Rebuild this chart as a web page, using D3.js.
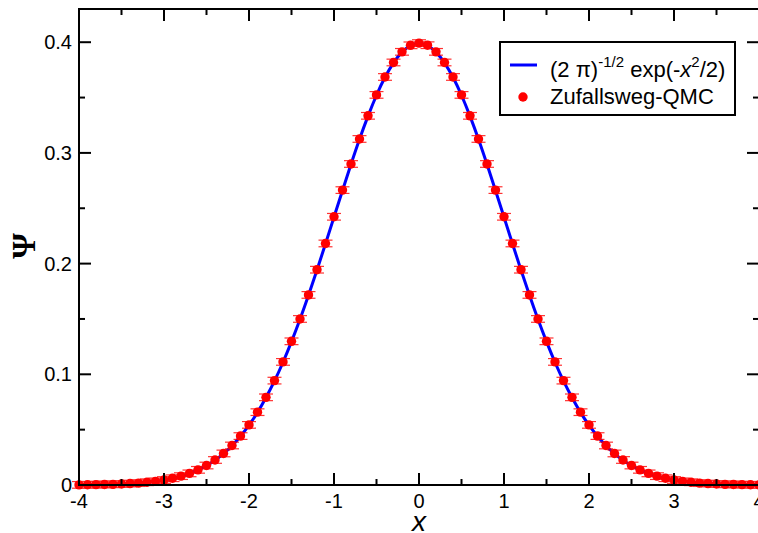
<!DOCTYPE html>
<html>
<head>
<meta charset="utf-8">
<script src="https://cdn.jsdelivr.net/npm/d3@7"></script>
<style>
  html, body { margin: 0; padding: 0; background: #fff; }
  svg { display: block; }
</style>
</head>
<body>
<svg id="chart" width="758" height="533"></svg>
<script>
// ---- data ----
const xValues = [-4.0,-3.9,-3.8,-3.7,-3.6,-3.5,-3.4,-3.3,-3.2,-3.1,-3.0,-2.9,-2.8,-2.7,-2.6,-2.5,-2.4,-2.3,-2.2,-2.1,
  -2.0,-1.9,-1.8,-1.7,-1.6,-1.5,-1.4,-1.3,-1.2,-1.1,-1.0,-0.9,-0.8,-0.7,-0.6,-0.5,-0.4,-0.3,-0.2,-0.1,
  0.0,0.1,0.2,0.3,0.4,0.5,0.6,0.7,0.8,0.9,1.0,1.1,1.2,1.3,1.4,1.5,1.6,1.7,1.8,1.9,
  2.0,2.1,2.2,2.3,2.4,2.5,2.6,2.7,2.8,2.9,3.0,3.1,3.2,3.3,3.4,3.5,3.6,3.7,3.8,3.9,4.0];

const gaussCurve = [0.0001,0.0002,0.0003,0.0004,0.0006,0.0009,0.0012,0.0017,0.0024,0.0033,0.0044,0.0060,0.0079,0.0104,0.0136,0.0175,0.0224,0.0283,0.0355,0.0440,
  0.0540,0.0656,0.0790,0.0940,0.1109,0.1295,0.1497,0.1714,0.1942,0.2179,0.2420,0.2661,0.2897,0.3123,0.3332,0.3521,0.3683,0.3814,0.3910,0.3970,
  0.3989,0.3970,0.3910,0.3814,0.3683,0.3521,0.3332,0.3123,0.2897,0.2661,0.2420,0.2179,0.1942,0.1714,0.1497,0.1295,0.1109,0.0940,0.0790,0.0656,
  0.0540,0.0440,0.0355,0.0283,0.0224,0.0175,0.0136,0.0104,0.0079,0.0060,0.0044,0.0033,0.0024,0.0017,0.0012,0.0009,0.0006,0.0004,0.0003,0.0002,0.0001];

const qmcValues = [0.0001,0.0002,0.0003,0.0005,0.0006,0.0009,0.0013,0.0017,0.0025,0.0033,0.0045,0.0061,0.0080,0.0105,0.0137,0.0176,0.0226,0.0285,0.0357,0.0442,
  0.0543,0.0658,0.0792,0.0943,0.1112,0.1298,0.1500,0.1717,0.1945,0.2182,0.2423,0.2664,0.2900,0.3126,0.3335,0.3524,0.3686,0.3817,0.3913,0.3972,
  0.3992,0.3973,0.3913,0.3817,0.3686,0.3524,0.3335,0.3126,0.2900,0.2664,0.2423,0.2182,0.1945,0.1717,0.1500,0.1298,0.1112,0.0943,0.0792,0.0658,
  0.0543,0.0442,0.0357,0.0285,0.0226,0.0176,0.0137,0.0105,0.0080,0.0061,0.0045,0.0033,0.0025,0.0017,0.0013,0.0009,0.0006,0.0005,0.0003,0.0002,0.0001];

const qmcErrors = [0.003,0.003,0.003,0.003,0.003,0.003,0.003,0.003,0.003,0.003,0.003,0.003,0.003,0.003,0.003,0.003,0.003,0.003,0.003,0.003,
  0.003,0.003,0.003,0.003,0.003,0.003,0.003,0.003,0.003,0.003,0.003,0.003,0.003,0.003,0.003,0.003,0.003,0.003,0.003,0.003,
  0.003,0.003,0.003,0.003,0.003,0.003,0.003,0.003,0.003,0.003,0.003,0.003,0.003,0.003,0.003,0.003,0.003,0.003,0.003,0.003,
  0.003,0.003,0.003,0.003,0.003,0.003,0.003,0.003,0.003,0.003,0.003,0.003,0.003,0.003,0.003,0.003,0.003,0.003,0.003,0.003,0.003];

const xTickLabels = ["-4","-3","-2","-1","0","1","2","3","4"];
const xTicks = [-4,-3,-2,-1,0,1,2,3,4];
const xMinorTicks = [-3.5,-2.5,-1.5,-0.5,0.5,1.5,2.5,3.5];
const yTickLabels = ["0","0.1","0.2","0.3","0.4"];
const yTicks = [0,0.1,0.2,0.3,0.4];
const yMinorTicks = [0.05,0.15,0.25,0.35];
const legendLabels = ["(2 π)", "Zufallsweg-QMC"];

// ---- layout ----
const svg = d3.select("#chart");
const pLeft = 79, pRight = 759, pTop = 9, pBottom = 485;
const x = d3.scaleLinear().domain([-4, 4]).range([pLeft, pRight]);
const y = d3.scaleLinear().domain([0, 0.43]).range([pBottom, pTop]);
const font = "Liberation Sans, Arial, Helvetica, sans-serif";

// curve
const line = d3.line().x((d, i) => x(xValues[i])).y(d => y(d)).curve(d3.curveNatural);
svg.append("path").datum(gaussCurve)
  .attr("d", line).attr("fill", "none").attr("stroke", "#0000ff").attr("stroke-width", 3);

// error bars
const eb = svg.append("g").attr("stroke", "#ff0000").attr("stroke-width", 1.2).attr("opacity", 0.8);
qmcValues.forEach((v, i) => {
  const cx = x(xValues[i]);
  const y1 = y(v + qmcErrors[i]), y2 = y(v - qmcErrors[i]);
  eb.append("line").attr("x1", cx).attr("x2", cx).attr("y1", y1).attr("y2", y2);
  eb.append("line").attr("x1", cx - 7).attr("x2", cx + 7).attr("y1", y1).attr("y2", y1);
  eb.append("line").attr("x1", cx - 7).attr("x2", cx + 7).attr("y1", y2).attr("y2", y2);
});

// points
svg.append("g").selectAll("circle").data(qmcValues).join("circle")
  .attr("cx", (d, i) => x(xValues[i])).attr("cy", d => y(d))
  .attr("r", 4.7).attr("fill", "#ff0000");

// frame
const frame = svg.append("g").attr("stroke", "#000").attr("stroke-width", 2).attr("fill", "none");
frame.append("rect").attr("x", pLeft).attr("y", pTop).attr("width", pRight - pLeft).attr("height", pBottom - pTop);

// ticks
const tg = svg.append("g").attr("stroke", "#000").attr("stroke-width", 2);
xTicks.forEach(t => {
  tg.append("line").attr("x1", x(t)).attr("x2", x(t)).attr("y1", pBottom).attr("y2", pBottom - 12);
  tg.append("line").attr("x1", x(t)).attr("x2", x(t)).attr("y1", pTop).attr("y2", pTop + 12);
});
xMinorTicks.forEach(t => {
  tg.append("line").attr("x1", x(t)).attr("x2", x(t)).attr("y1", pBottom).attr("y2", pBottom - 6);
  tg.append("line").attr("x1", x(t)).attr("x2", x(t)).attr("y1", pTop).attr("y2", pTop + 6);
});
yTicks.forEach(t => {
  tg.append("line").attr("x1", pLeft).attr("x2", pLeft + 12).attr("y1", y(t)).attr("y2", y(t));
  tg.append("line").attr("x1", pRight).attr("x2", pRight - 12).attr("y1", y(t)).attr("y2", y(t));
});
yMinorTicks.forEach(t => {
  tg.append("line").attr("x1", pLeft).attr("x2", pLeft + 6).attr("y1", y(t)).attr("y2", y(t));
  tg.append("line").attr("x1", pRight).attr("x2", pRight - 6).attr("y1", y(t)).attr("y2", y(t));
});

// tick labels
svg.append("g").selectAll("text").data(xTicks).join("text")
  .attr("x", d => x(d)).attr("y", pBottom + 23)
  .attr("text-anchor", "middle").attr("font-family", font).attr("font-size", 20)
  .text((d, i) => xTickLabels[i]);
svg.append("g").selectAll("text").data(yTicks).join("text")
  .attr("x", pLeft - 7).attr("y", d => y(d) + 7)
  .attr("text-anchor", "end").attr("font-family", font).attr("font-size", 20)
  .text((d, i) => yTickLabels[i]);

// axis titles
svg.append("text").attr("x", 419).attr("y", 531).attr("text-anchor", "middle")
  .attr("font-family", font).attr("font-size", 28).attr("font-style", "italic").text("x");
svg.append("text").attr("transform", "translate(35,246) rotate(-90)").attr("text-anchor", "middle")
  .attr("font-family", "Liberation Serif, DejaVu Serif, serif").attr("font-size", 33)
  .attr("font-weight", "bold").text("Ψ");

// legend
const lg = svg.append("g");
lg.append("rect").attr("x", 500).attr("y", 42).attr("width", 235).attr("height", 73)
  .attr("fill", "#fff").attr("stroke", "#000").attr("stroke-width", 2);
lg.append("line").attr("x1", 510).attr("x2", 537).attr("y1", 65).attr("y2", 65)
  .attr("stroke", "#0000ff").attr("stroke-width", 3);
const t1 = lg.append("text").attr("x", 550).attr("y", 77).attr("font-family", font).attr("font-size", 22);
t1.append("tspan").text(legendLabels[0]);
t1.append("tspan").attr("dy", -10).attr("font-size", 15).text("-1/2");
t1.append("tspan").attr("dy", 10).text(" exp(-");
t1.append("tspan").attr("font-style", "italic").text("x");
t1.append("tspan").attr("dy", -10).attr("font-size", 15).text("2");
t1.append("tspan").attr("dy", 10).text("/2)");
lg.append("circle").attr("cx", 523).attr("cy", 97).attr("r", 4.7).attr("fill", "#ff0000");
lg.append("text").attr("x", 550).attr("y", 104).attr("font-family", font).attr("font-size", 22)
  .text(legendLabels[1]);
</script>
</body>
</html>
